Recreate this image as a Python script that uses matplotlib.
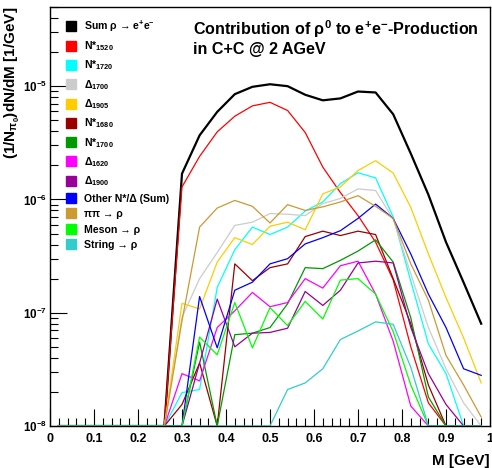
import numpy as np
import matplotlib
matplotlib.use("Agg")
import matplotlib.pyplot as plt
from matplotlib.lines import Line2D
from matplotlib.ticker import LogLocator, MultipleLocator, LogFormatterSciNotation

plt.rcParams['font.family'] = ['Liberation Sans', 'DejaVu Sans']
plt.rcParams['font.weight'] = 'bold'
plt.rcParams['mathtext.fontset'] = 'custom'
plt.rcParams['mathtext.rm'] = 'Liberation Sans:bold'
plt.rcParams['mathtext.it'] = 'Liberation Sans:bold'
plt.rcParams['mathtext.bf'] = 'Liberation Sans:bold'
plt.rcParams['mathtext.sf'] = 'Liberation Sans:bold'

# bin centres (GeV)
mass = [0.02, 0.06, 0.10, 0.14, 0.18, 0.22, 0.26, 0.30, 0.34, 0.38, 0.42, 0.46, 0.50,
        0.54, 0.58, 0.62, 0.66, 0.70, 0.74, 0.78, 0.82, 0.86, 0.90, 0.94, 0.98]
low = [0, 0, 0, 0, 0, 0, 0]  # bins 0.02 .. 0.26 are empty

sum_rho = low + [1.69e-6, 3.68e-6, 5.93e-6, 8.5e-6, 9.87e-6, 1.04e-5, 1.0e-5, 8.4e-6, 7.5e-6,
                 7.8e-6, 8.97e-6, 8.8e-6, 5.65e-6, 2.54e-6, 1.1e-6, 4.2e-7, 1.85e-7, 8.0e-8]
n1520 = low + [1.29e-6, 2.4e-6, 3.95e-6, 5.43e-6, 6.7e-6, 7.2e-6, 6.1e-6, 3.9e-6, 1.93e-6,
               1.15e-6, 7.2e-7, 4.2e-7, 1.95e-7, 5e-8, 1.6e-8, 0, 0, 0]
n1720 = low + [1.97e-8, 2.1e-8, 1.67e-7, 3.6e-7, 5.7e-7, 4.9e-7, 5.7e-7, 7.9e-7, 9.5e-7,
               1.38e-6, 1.72e-6, 1.55e-6, 7.0e-7, 1.9e-7, 5.3e-8, 2.9e-8, 0, 0]
d1700 = low + [9.1e-8, 2.0e-7, 3.4e-7, 5.9e-7, 6.3e-7, 7.5e-7, 7.4e-7, 7.2e-7, 9.2e-7,
               1.02e-6, 1.24e-6, 1.2e-6, 6.7e-7, 2.2e-7, 7.4e-8, 3.2e-8, 1.6e-8, 0]
d1905 = low + [1.21e-7, 1.08e-7, 2.8e-7, 4.6e-7, 4.0e-7, 5.8e-7, 6.3e-7, 5.4e-7, 1.12e-6,
               1.29e-6, 1.8e-6, 2.2e-6, 1.71e-6, 8.5e-7, 3.3e-7, 1.36e-7, 6.0e-8, 2.4e-8]
n1680 = low + [1.55e-8, 3.6e-8, 0, 2.7e-7, 1.92e-7, 2.5e-7, 2.7e-7, 4.7e-7, 5.25e-7,
               4.8e-7, 5.25e-7, 4.9e-7, 2.0e-7, 8e-8, 2.3e-8, 0, 0, 0]
n1700 = low + [0, 5.5e-8, 0, 6.4e-8, 6.6e-8, 7.4e-8, 1.2e-7, 2.5e-7, 2.45e-7,
               2.9e-7, 3.5e-7, 4.4e-7, 2.8e-7, 9e-8, 1.8e-8, 0, 0, 0]
d1620 = low + [2.9e-8, 2.5e-8, 7.4e-8, 1.04e-7, 1.51e-7, 1.13e-7, 1.23e-7, 2.0e-7, 1.65e-7,
               2.6e-7, 2.85e-7, 1.46e-7, 5.6e-8, 1.5e-8, 0, 0, 0, 0]
d1900 = low + [0, 3.6e-8, 1.32e-7, 5.0e-8, 6.6e-8, 6.7e-8, 7.3e-8, 1.54e-7, 1.16e-7,
               1.58e-7, 2.75e-7, 2.85e-7, 2.75e-7, 7.4e-8, 2.9e-8, 1.55e-8, 0, 0]
other = low + [0, 1.39e-7, 4.9e-8, 1.58e-7, 1.86e-7, 2.7e-7, 3.0e-7, 4.05e-7, 4.6e-7,
               5.3e-7, 6.8e-7, 9.1e-7, 6.8e-7, 3.3e-7, 1.46e-7, 7.4e-8, 3.2e-8, 2.8e-8]
pipi = low + [8.5e-8, 5.7e-7, 8.4e-7, 9.8e-7, 8.7e-7, 6.2e-7, 9.0e-7, 8.0e-7, 8.6e-7,
              9.5e-7, 1.08e-6, 8.7e-7, 6.8e-7, 2.7e-7, 1.29e-7, 4.2e-8, 2.3e-8, 1.2e-8]
meson = low + [0, 6.1e-8, 4.25e-8, 1.23e-7, 4.9e-8, 1.11e-7, 7.7e-8, 1.26e-7, 8.8e-8,
               1.94e-7, 2.0e-7, 1.46e-7, 6.8e-8, 2.3e-8, 0, 0, 0, 0]
string = low + [0, 0, 0, 0, 0, 0, 2.1e-8, 2.4e-8, 3.2e-8, 5.8e-8, 6.9e-8, 8.3e-8, 7.9e-8,
                3.3e-8, 0, 0, 0, 0]

labels = ['Sum ρ → e$^{+}$e$^{-}$', 'N*$_{1520}$', 'N*$_{1720}$', 'Δ$_{1700}$', 'Δ$_{1905}$',
          'N*$_{1680}$', 'N*$_{1700}$', 'Δ$_{1620}$', 'Δ$_{1900}$', 'Other N*/Δ (Sum)',
          'ππ → ρ', 'Meson → ρ', 'String → ρ']
series = [sum_rho, n1520, n1720, d1700, d1905, n1680, n1700, d1620, d1900, other, pipi, meson, string]
colors = ['#000000', '#ff0000', '#00ffff', '#cccccc', '#ffcc00', '#990000', '#009900',
          '#ff00ff', '#990099', '#0000ff', '#cc9933', '#00ff00', '#33cccc']
widths = [1.6] + [0.9] * 12

YMIN, YMAX = 1e-8, 5e-5

fig = plt.figure(figsize=(4.92, 4.68), dpi=100)
ax = fig.add_axes([50 / 492, 1 - 426 / 468, 440 / 492, 419 / 468])

for vals, c, lw in zip(series, colors, widths):
    v = np.asarray(vals, dtype=float)
    v = np.where(v > 0, v, YMIN)
    ax.plot(mass, v, color=c, lw=lw)

ax.set_yscale('log')
ax.set_xlim(0, 1)
ax.set_ylim(YMIN, YMAX)

ax.xaxis.set_major_locator(MultipleLocator(0.1))
ax.xaxis.set_minor_locator(MultipleLocator(0.02))
ax.yaxis.set_major_locator(LogLocator(base=10, numticks=10))
ax.yaxis.set_minor_locator(LogLocator(base=10, subs=np.arange(2, 10), numticks=20))
ax.yaxis.set_major_formatter(LogFormatterSciNotation())
ax.xaxis.set_major_formatter(plt.FuncFormatter(lambda v, p: '%g' % round(v, 2)))
ax.tick_params(which='major', direction='in', length=12, width=0.8)
ax.tick_params(which='minor', direction='in', length=6, width=0.8)
ax.tick_params(axis='x', which='major', labelsize=9, pad=5)
ax.tick_params(axis='y', which='major', labelsize=8.4, pad=2)
ax.tick_params(axis='y', which='minor', labelleft=False)
for lab in ax.get_xticklabels() + ax.get_yticklabels():
    lab.set_fontweight('bold')
for s in ax.spines.values():
    s.set_linewidth(1.0)

handles = [Line2D([], [], marker='s', ls='none', color=c, markersize=6.5) for c in colors]
leg = ax.legend(handles, labels, loc='upper left', bbox_to_anchor=(0.02, 0.990),
                frameon=False, handlelength=1.0, handletextpad=0.7,
                labelspacing=0.52, borderaxespad=0.3, prop={'weight': 'bold', 'size': 7.6})

ax.text(0.325, 0.972, 'Contribution of ρ$^{0}$ to e$^{+}$e$^{-}$-Production\nin C+C @ 2 AGeV',
        transform=ax.transAxes, ha='left', va='top', fontsize=11.6, fontweight='bold',
        linespacing=1.15)

fig.text(12 / 492, 1 - 7 / 468, '(1/N$_{\\pi_{0}}$)dN/dM [1/GeV]', rotation=90,
         ha='center', va='top', fontsize=11, fontweight='bold')
fig.text(490 / 492, 1 - 461 / 468, 'M [GeV]', ha='right', va='center',
         fontsize=11, fontweight='bold')

fig.savefig('out.png', dpi=100)
